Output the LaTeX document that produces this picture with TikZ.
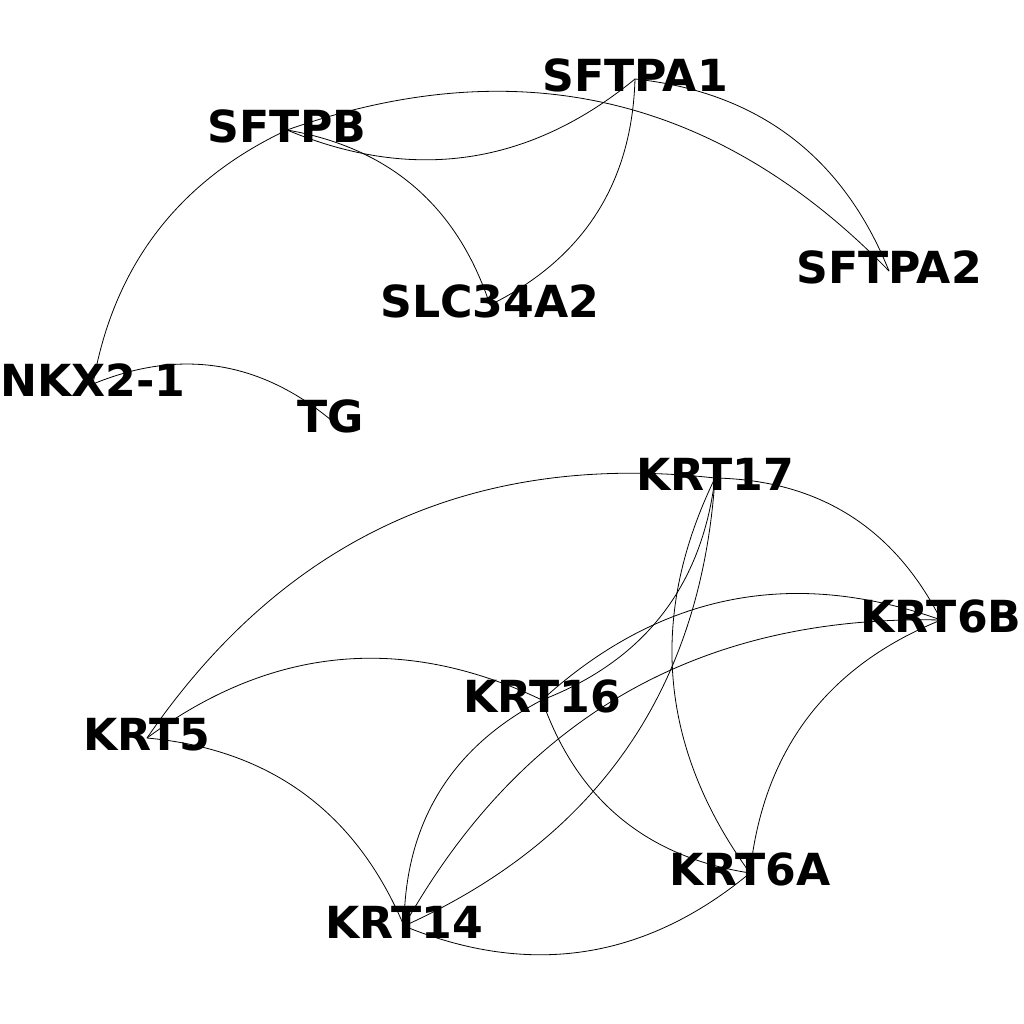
\documentclass[tikz,border=0pt]{standalone}
\usepackage{fontspec}
\setmainfont{DejaVu Sans}
\usetikzlibrary{calc}
\tikzset{
  lbl/.style={font=\fontsize{44.2}{50}\selectfont\bfseries, inner sep=0pt, text depth=7pt, anchor=center},
  edge/.style={draw=black, line width=0.8pt}
}
\newcommand\arcedge[4][0.6]{%
  \coordinate (mm) at ($(#2.center)!0.5!(#3.center)$);
  \coordinate (cc) at ($(mm)!#1!#4:(#3.center)$);
  \draw[edge] (#2.center) .. controls ($(#2.center)!0.6667!(cc)$) and ($(#3.center)!0.6667!(cc)$) .. (#3.center);}
\begin{document}
\begin{tikzpicture}[x=1pt,y=-1pt]
\useasboundingbox (0,0) rectangle (1024,1024);
\node[lbl] (SFTPA1) at (635,79) {SFTPA1};
\node[lbl] (SFTPB) at (287,130) {SFTPB};
\node[lbl] (SFTPA2) at (889,271) {SFTPA2};
\node[lbl] (SLC) at (490,305) {SLC34A2};
\node[lbl] (NKX) at (93,384) {NKX2-1};
\node[lbl] (TG) at (331,420) {TG};
\node[lbl] (KRT17) at (715,478) {KRT17};
\node[lbl] (KRT6B) at (941,620) {KRT6B};
\node[lbl] (KRT16) at (542,700) {KRT16};
\node[lbl] (KRT5) at (147,738) {KRT5};
\node[lbl] (KRT6A) at (750,873) {KRT6A};
\node[lbl] (KRT14) at (404,926) {KRT14};
% top cluster
\arcedge[0.64]{SFTPB}{SFTPA2}{90}
\arcedge{SFTPB}{SFTPA1}{-90}
\arcedge{SFTPB}{SLC}{90}
\arcedge{SFTPA1}{SLC}{90}
\arcedge{SFTPA1}{SFTPA2}{90}
\arcedge[0.52]{SFTPB}{NKX}{-90}
\arcedge{NKX}{TG}{90}
% bottom cluster
\arcedge{KRT17}{KRT5}{-90}
\arcedge{KRT17}{KRT6B}{90}
\arcedge{KRT17}{KRT16}{90}
\arcedge{KRT17}{KRT6A}{-90}
\arcedge{KRT17}{KRT14}{90}
\arcedge{KRT6B}{KRT16}{-90}
\arcedge{KRT6B}{KRT14}{-90}
\arcedge{KRT6B}{KRT6A}{-90}
\arcedge{KRT16}{KRT5}{-90}
\arcedge{KRT16}{KRT6A}{-90}
\arcedge{KRT16}{KRT14}{-90}
\arcedge{KRT5}{KRT14}{90}
\arcedge{KRT14}{KRT6A}{-90}
\end{tikzpicture}
\end{document}
